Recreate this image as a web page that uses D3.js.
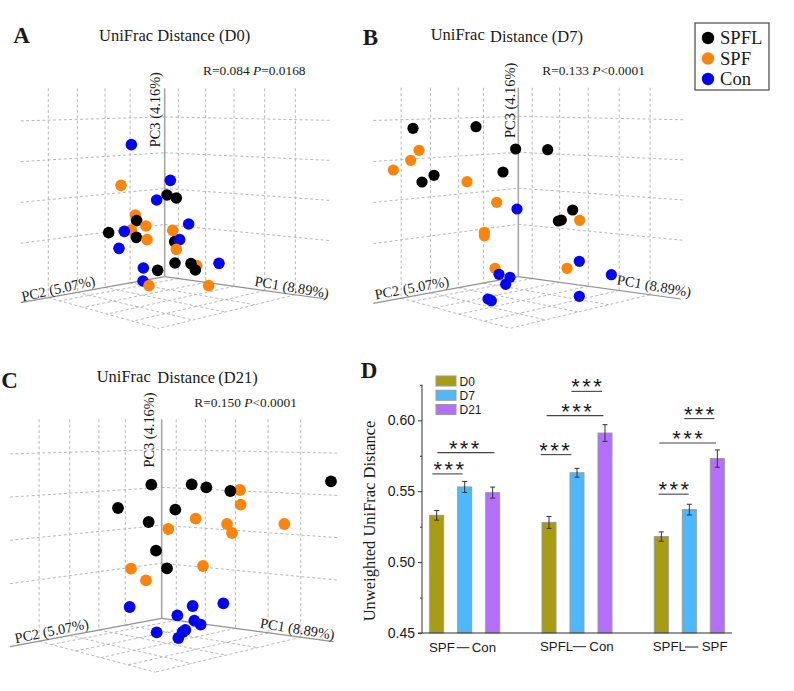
<!DOCTYPE html>
<html>
<head>
<meta charset="utf-8">
<script src="https://cdn.jsdelivr.net/npm/d3@7/dist/d3.min.js"></script>
<style>
  html, body { margin: 0; padding: 0; background: #fff; }
  svg { display: block; }
  text { fill: #1a1a1a; }
  .serif { font-family: "Liberation Serif", serif; }
  .sans { font-family: "Liberation Sans", sans-serif; }
</style>
</head>
<body>
<svg id="fig" width="794" height="691"></svg>
<script>
// PCoA ordination scores as projected on the page, one row per sample: [group, across, down].
const pointsD0 = [
  ["Con",394,434],["Con",511,541],["SPF",363,556],["SPFL",501,585],["SPFL",529,594],["Con",470,600],
  ["SPF",406,645],["SPFL",410,662],["SPF",394,690],["Con",373,694],["SPFL",326,698],["SPF",438,678],
  ["SPFL",409,712],["SPF",441,719],["Con",566,672],["SPF",518,691],["SPFL",524,725],["Con",539,719],
  ["SPF",529,748],["Con",357,745],["SPFL",525,789],["SPF",590,797],["SPFL",573,791],["SPFL",586,810],
  ["Con",657,790],["Con",430,804],["SPFL",473,811],["Con",429,843],["SPF",447,857],["SPF",626,857]
];
const pointsD7 = [
  ["SPFL",189,385],["SPFL",378,380],["SPFL",497,447],["SPFL",593,449],["SPFL",459,516],["SPFL",252,526],
  ["SPFL",216,546],["SPFL",668,630],["SPFL",625,663],["SPFL",634,660],["SPF",207,451],["SPF",182,481],
  ["SPF",130,510],["SPF",351,545],["SPF",440,607],["SPF",403,697],["SPF",403,707],["SPF",689,661],
  ["SPF",435,805],["SPF",651,805],["Con",501,627],["Con",688,784],["Con",784,824],["Con",447,823],
  ["Con",480,832],["Con",467,853],["Con",688,889],["Con",414,897],["Con",424,902]
];
const pointsD21 = [
  ["SPF",720,420],["SPFL",454,404],["SPFL",575,403],["SPFL",619,412],["SPFL",691,423],["SPFL",993,394],
  ["SPFL",354,474],["SPFL",526,479],["SPFL",446,516],["SPFL",468,602],["SPFL",501,655],["SPF",722,464],
  ["SPF",587,506],["SPF",681,522],["SPF",696,549],["SPF",853,522],["SPF",505,537],["SPF",609,648],
  ["SPF",393,656],["SPF",438,691],["Con",389,771],["Con",578,768],["Con",670,760],["Con",532,796],
  ["Con",583,812],["Con",602,824],["Con",556,840],["Con",548,846],["Con",470,847],["Con",535,864]
];

const axisPC1 = "PC1 (8.89%)";
const axisPC2 = "PC2 (5.07%)";
const axisPC3 = "PC3 (4.16%)";
const anosim = [["R=0.084 ", "P", "=0.0168"], ["R=0.133 ", "P", "<0.0001"], ["R=0.150 ", "P", "<0.0001"]];

const groupNames = ["SPFL", "SPF", "Con"];
const groupColors = ["#000000", "#fb840c", "#0404ee"];

// Unweighted UniFrac distance between groups, per sampling day.
const comparisons = [["SPF", "Con"], ["SPFL", "Con"], ["SPFL", "SPF"]];
const days = ["D0", "D7", "D21"];
const dayColors = ["#a89c12", "#4cb9ff", "#b56fff"];
const distD0 = [0.533, 0.528, 0.518];
const distD7 = [0.553, 0.563, 0.537];
const distD21 = [0.549, 0.591, 0.573];
const errD0 = [0.0034, 0.0042, 0.0033];
const errD7 = [0.0039, 0.0031, 0.0038];
const errD21 = [0.0039, 0.0059, 0.0061];
const majorTicks = [0.45, 0.50, 0.55, 0.60];
const minorTicks = [0.475, 0.525, 0.575, 0.625];

// Fractions of each floor axis where the ordination box carries grid lines.
const pc2Grid = [0.24, 0.414, 0.606, 0.808];
const pc1Grid = [0.085, 0.254, 0.43, 0.62, 0.81];
const pc3Grid = [0.277, 0.468, 0.658, 0.848];
const floorExtent = 0.81;

const svg = d3.select("#fig");
const color = d3.scaleOrdinal(groupNames, groupColors);

// Each panel works in its own 1000-unit local frame, placed on the page by a pair of scales.
function localScales(px, py) {
  return {
    x: d3.scaleLinear().domain([0, 1000]).range([px, px + 1000 / 3]),
    y: d3.scaleLinear().domain([0, 1000]).range([py, py + 1000 / 3])
  };
}

function drawOrdination(points, box) {
  const s = localScales(box.px, box.py);
  const g = svg.append("g");
  const [O, L, R, F] = [box.O, box.L, box.R, box.F];
  const top = box.top;
  const lerp = (a, b, t) => [a[0] + (b[0] - a[0]) * t, a[1] + (b[1] - a[1]) * t];
  // Bilinear position on the floor: u along PC2, v along PC1.
  const floor = (u, v) => lerp(lerp(O, L, u), lerp(R, F, u), v);
  const line = (a, b, cls) => g.append("line")
    .attr("x1", s.x(a[0])).attr("y1", s.y(a[1]))
    .attr("x2", s.x(b[0])).attr("y2", s.y(b[1]))
    .attr("stroke", cls === "grid" ? "#b0b0b0" : "#929292")
    .attr("stroke-width", cls === "grid" ? 0.9 : 1.2)
    .attr("stroke-dasharray", cls === "grid" ? "3,2.4" : null);

  // Back walls
  pc2Grid.forEach(f => { const b = lerp(O, L, f); line([b[0], top], b, "grid"); });
  pc1Grid.forEach(f => { const b = lerp(O, R, f); line([b[0], top], b, "grid"); });
  pc3Grid.forEach(f => {
    const c = [O[0], O[1] + (top - O[1]) * f];
    line([L[0], L[1] + (top - L[1]) * f], c, "grid");
    line(c, [R[0] + 12, R[1] + (top - R[1]) * f], "grid");
  });
  // Floor
  pc2Grid.forEach(f => line(floor(f, 0), floor(f, floorExtent), "grid"));
  pc1Grid.forEach(f => line(floor(0, f), floor(floorExtent, f), "grid"));
  // Axes
  line(O, L, "axis");
  line(O, R, "axis");
  line(O, [O[0], top], "axis").attr("stroke", "#a6a6a6").attr("stroke-width", 1.6);

  const label = (text, at, angle) => g.append("text")
    .attr("class", "serif").attr("text-anchor", "middle").attr("font-size", 14.4)
    .attr("transform", `translate(${s.x(at[0])},${s.y(at[1])}) rotate(${angle})`)
    .text(text);
  label(axisPC3, box.pc3At, -90);
  label(axisPC2, box.pc2At, box.pc2Angle);
  label(axisPC1, box.pc1At, box.pc1Angle);

  g.selectAll("circle.sample").data(points).join("circle")
    .attr("class", "sample")
    .attr("cx", d => s.x(d[1])).attr("cy", d => s.y(d[2]))
    .attr("r", box.r).attr("fill", d => color(d[0]));

  // Panel letter and title words
  g.append("text").attr("class", "serif").attr("font-weight", "bold").attr("font-size", 23)
    .attr("x", s.x(box.letterAt[0])).attr("y", s.y(box.letterAt[1])).text(box.letter);
  box.title.forEach(t => g.append("text").attr("class", "serif").attr("font-size", 16.5)
    .attr("x", s.x(t[1])).attr("y", s.y(t[2])).text(t[0]));

  const stat = g.append("text").attr("class", "serif").attr("font-size", 13.4)
    .attr("x", s.x(box.statAt[0])).attr("y", s.y(box.statAt[1]));
  stat.append("tspan").text(box.stat[0]);
  stat.append("tspan").attr("font-style", "italic").text(box.stat[1]);
  stat.append("tspan").text(box.stat[2]);
}

drawOrdination(pointsD0, {
  px: 0, py: 0, r: 5.8, letter: "A", letterAt: [40, 130],
  O: [494, 830], L: [62, 908], R: [978, 897], F: [453, 1033], top: 265,
  pc3At: [481, 329], pc2At: [178, 880], pc2Angle: -12.5, pc1At: [873, 876], pc1Angle: 9.5,
  title: [["UniFrac Distance (D0)", 297, 123]],
  stat: anosim[0], statAt: [609, 225]
});
drawOrdination(pointsD7, {
  px: 350, py: 0, r: 5.6, letter: "B", letterAt: [38, 135],
  O: [505, 830], L: [70, 910], R: [993, 897], F: [454, 1032], top: 263,
  pc3At: [496, 301], pc2At: [188, 878], pc2Angle: -10.5, pc1At: [910, 872], pc1Angle: 10,
  title: [["UniFrac", 242, 120], ["Distance (D7)", 420, 127]],
  stat: anosim[1], statAt: [577, 225]
});
drawOrdination(pointsD21, {
  px: 0, py: 350, r: 5.9, letter: "C", letterAt: [4, 115],
  O: [485, 805], L: [30, 890], R: [1000, 875], F: [440, 1015], top: 208,
  pc3At: [463, 240], pc2At: [158, 857], pc2Angle: -11.5, pc1At: [890, 851], pc1Angle: 9,
  title: [["UniFrac", 290, 95], ["Distance", 472, 100], ["(D21)", 655, 100]],
  stat: anosim[2], statAt: [583, 172]
});

// Group legend
const legend = svg.append("g");
legend.append("rect").attr("x", 695).attr("y", 23).attr("width", 74).attr("height", 67)
  .attr("fill", "#fff").attr("stroke", "#555").attr("stroke-width", 1.3);
const legendY = d3.scalePoint(groupNames, [38, 79]);
groupNames.forEach(name => {
  legend.append("circle").attr("cx", 708).attr("cy", legendY(name)).attr("r", 6.2).attr("fill", color(name));
  legend.append("text").attr("class", "serif").attr("font-size", 18.6)
    .attr("x", 720).attr("y", legendY(name) + 6).text(name);
});

// Panel D: grouped bars with error bars and significance brackets
const d = svg.append("g");
const panel = localScales(350, 350);
const y = d3.scaleLinear().domain([0.45, 0.60]).range([633, 420.3]);
const x0 = d3.scaleBand().domain(comparisons.map(c => c.join("-"))).range([408.5, 745.5]);
const x1 = d3.scaleBand().domain(days).range([-42, 42]).paddingInner(0.5).paddingOuter(0.25);
const dayColor = d3.scaleOrdinal(days, dayColors);

const rows = comparisons.flatMap((c, i) => [
  { key: c.join("-"), day: "D0", v: distD0[i], e: errD0[i] },
  { key: c.join("-"), day: "D7", v: distD7[i], e: errD7[i] },
  { key: c.join("-"), day: "D21", v: distD21[i], e: errD21[i] }
]);
const barLeft = r => x0(r.key) + x0.bandwidth() / 2 + x1(r.day);
const barMid = r => barLeft(r) + x1.bandwidth() / 2;

d.selectAll("rect.bar").data(rows).join("rect").attr("class", "bar")
  .attr("x", barLeft).attr("width", x1.bandwidth())
  .attr("y", r => y(r.v)).attr("height", r => y(0.45) - y(r.v))
  .attr("fill", r => dayColor(r.day)).attr("stroke", "#9a9a9a").attr("stroke-width", 1);

const errs = d.selectAll("g.err").data(rows).join("g").attr("class", "err")
  .attr("stroke", "#333").attr("stroke-width", 1);
errs.append("line").attr("x1", barMid).attr("x2", barMid)
  .attr("y1", r => y(r.v + r.e)).attr("y2", r => y(r.v - r.e));
errs.append("line").attr("x1", r => barMid(r) - 2.5).attr("x2", r => barMid(r) + 2.5)
  .attr("y1", r => y(r.v + r.e)).attr("y2", r => y(r.v + r.e));
errs.append("line").attr("x1", r => barMid(r) - 2.5).attr("x2", r => barMid(r) + 2.5)
  .attr("y1", r => y(r.v - r.e)).attr("y2", r => y(r.v - r.e));

// Y axis with labelled major ticks and short unlabelled minor ticks
const axisMajor = d3.axisLeft(y).tickValues(majorTicks).tickFormat(d3.format(".2f")).tickSize(4).tickPadding(3);
const yAxis = d.append("g").attr("transform", "translate(422,0)").call(axisMajor);
yAxis.select(".domain").remove();
yAxis.selectAll(".tick line").attr("stroke", "#333");
yAxis.selectAll(".tick text").attr("class", "sans").attr("font-size", 14).attr("font-family", null).attr("fill", "#222");
const yMinor = d.append("g").attr("transform", "translate(422,0)")
  .call(d3.axisLeft(y).tickValues(minorTicks).tickFormat("").tickSize(2));
yMinor.select(".domain").remove();
yMinor.selectAll(".tick line").attr("stroke", "#333");
d.append("line").attr("x1", 422).attr("x2", 422).attr("y1", y(0.45)).attr("y2", y(0.625)).attr("stroke", "#333");
d.append("line").attr("x1", 418).attr("x2", 732).attr("y1", y(0.45)).attr("y2", y(0.45)).attr("stroke", "#333").attr("stroke-width", 1.1);

d.append("text").attr("class", "serif").attr("font-size", 16.5).attr("text-anchor", "middle")
  .attr("transform", "translate(375,521) rotate(-90)").text("Unweighted UniFrac Distance");

d.append("text").attr("class", "serif").attr("font-weight", "bold").attr("font-size", 23)
  .attr("x", panel.x(32)).attr("y", panel.y(85)).text("D");

// Comparison labels: left group, a dash, right group
const pairLayout = [[237, 320, 358, 365, 905], [570, 668, 708, 718, 902], [908, 1005, 1045, 1055, 903]];
comparisons.forEach((c, i) => {
  const [tx, lx1, lx2, rx, by] = pairLayout[i];
  d.append("text").attr("class", "sans").attr("font-size", 13.3).attr("fill", "#222")
    .attr("x", panel.x(tx)).attr("y", panel.y(by)).text(c[0]);
  d.append("line").attr("x1", panel.x(lx1)).attr("x2", panel.x(lx2))
    .attr("y1", panel.y(by - 12)).attr("y2", panel.y(by - 12)).attr("stroke", "#333").attr("stroke-width", 1.1);
  d.append("text").attr("class", "sans").attr("font-size", 13.3).attr("fill", "#222")
    .attr("x", panel.x(rx)).attr("y", panel.y(by)).text(c[1]);
});

// Significance brackets: [left, right, distance level, star centre]
const brackets = [
  [247, 338, 0.5622, 297], [262, 433, 0.5772, 343],
  [572, 664, 0.5758, 614], [590, 760, 0.6033, 680], [664, 756, 0.6204, 710],
  [926, 1016, 0.5479, 972], [928, 1098, 0.5840, 1013], [1003, 1093, 0.6012, 1048]
];
brackets.forEach(b => {
  d.append("line").attr("x1", panel.x(b[0])).attr("x2", panel.x(b[1]))
    .attr("y1", y(b[2])).attr("y2", y(b[2])).attr("stroke", "#444").attr("stroke-width", 1.1);
  d.append("text").attr("class", "sans").attr("font-size", 22).attr("text-anchor", "middle")
    .attr("letter-spacing", 2.4).attr("fill", "#444")
    .attr("x", panel.x(b[3]) + 1).attr("y", y(b[2]) + 3).text("***");
});

// Day legend
const dayY = d3.scalePoint(days, [381, 409.5]);
days.forEach(day => {
  d.append("rect").attr("x", 436).attr("y", dayY(day) - 5).attr("width", 20).attr("height", 10)
    .attr("fill", dayColor(day)).attr("stroke", "#9a9a9a").attr("stroke-width", 1);
  d.append("text").attr("class", "sans").attr("font-size", 12).attr("fill", "#222")
    .attr("x", 459.5).attr("y", dayY(day) + 4.5).text(day);
});
</script>
</body>
</html>
